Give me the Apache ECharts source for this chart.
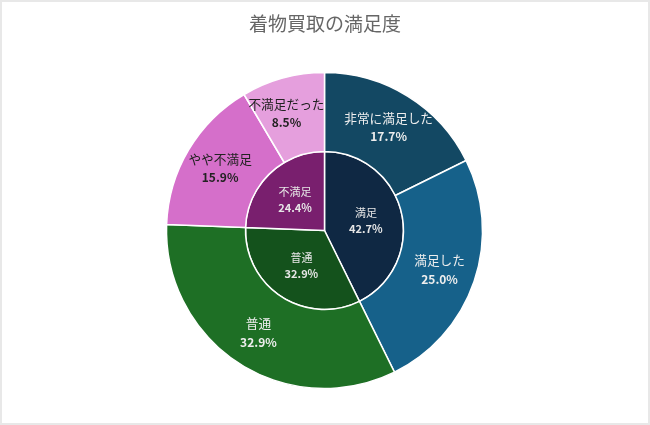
<!DOCTYPE html>
<html>
<head>
<meta charset="utf-8">
<script src="https://cdn.jsdelivr.net/npm/echarts@6/dist/echarts.min.js"></script>
<style>
html,body{margin:0;padding:0;background:#fff;}
#c{width:650px;height:425px;box-sizing:border-box;border:2px solid #e8e8e8;}
</style>
</head>
<body>
<div id="c"></div>
<script>
const titleText = '着物買取の満足度';
const innerNames = ['満足', '普通', '不満足'];
const innerValues = [42.7, 32.9, 24.4];
const innerColors = ['#0f2843', '#14521c', '#791f6e'];
const outerNames = ['非常に満足した', '満足した', '普通', 'やや不満足', '不満足だった'];
const outerValues = [17.7, 25.0, 32.9, 15.9, 8.5];
const outerColors = ['#134863', '#16618a', '#1e6f25', '#d56fca', '#e59fdd'];
const outerTextColors = ['#eeeeee', '#eeeeee', '#eeeeee', '#222', '#222'];

const font = '"Noto Sans CJK JP", "Noto Sans", sans-serif';
const chart = echarts.init(document.getElementById('c'));
const cx = 322.5, cy = 228.5;

chart.setOption({
  animation: false,
  title: {
    text: titleText,
    left: 'center',
    top: 7,
    textStyle: { fontFamily: font, fontSize: 19, fontWeight: 'normal', color: '#666' }
  },
  series: [
    {
      type: 'pie',
      radius: [0, 79],
      center: [cx, cy],
      startAngle: 90,
      clockwise: true,
      silent: true,
      itemStyle: { borderColor: '#fff', borderWidth: 1.5 },
      label: {
        position: 'inside',
        formatter: p => '{n|' + p.name + '}\n{v|' + p.value.toFixed(1) + '%}',
        rich: {
          n: { fontFamily: font, fontSize: 11, color: '#e6e6e6', lineHeight: 16 },
          v: { fontFamily: font, fontSize: 11, fontWeight: 'bold', color: '#e6e6e6', lineHeight: 16 }
        }
      },
      labelLine: { show: false },
      data: innerNames.map((n, i) => ({ name: n, value: innerValues[i], itemStyle: { color: innerColors[i] } }))
    },
    {
      type: 'pie',
      radius: [79, 158],
      center: [cx, cy],
      startAngle: 90,
      clockwise: true,
      silent: true,
      itemStyle: { borderColor: '#fff', borderWidth: 1.5 },
      labelLine: { show: false },
      data: outerNames.map((n, i) => ({
        name: n, value: outerValues[i],
        itemStyle: { color: outerColors[i] },
        label: {
          position: 'inside',
          offset: i === outerNames.length - 1 ? [-6, 0] : [0, 0],
          formatter: p => '{n|' + p.name + '}\n{v|' + p.value.toFixed(1) + '%}',
          rich: {
            n: { fontFamily: font, fontSize: 12.7, color: outerTextColors[i], lineHeight: 19 },
            v: { fontFamily: font, fontSize: 12, fontWeight: 'bold', color: outerTextColors[i], lineHeight: 19 }
          }
        }
      }))
    }
  ]
});
</script>
</body>
</html>
